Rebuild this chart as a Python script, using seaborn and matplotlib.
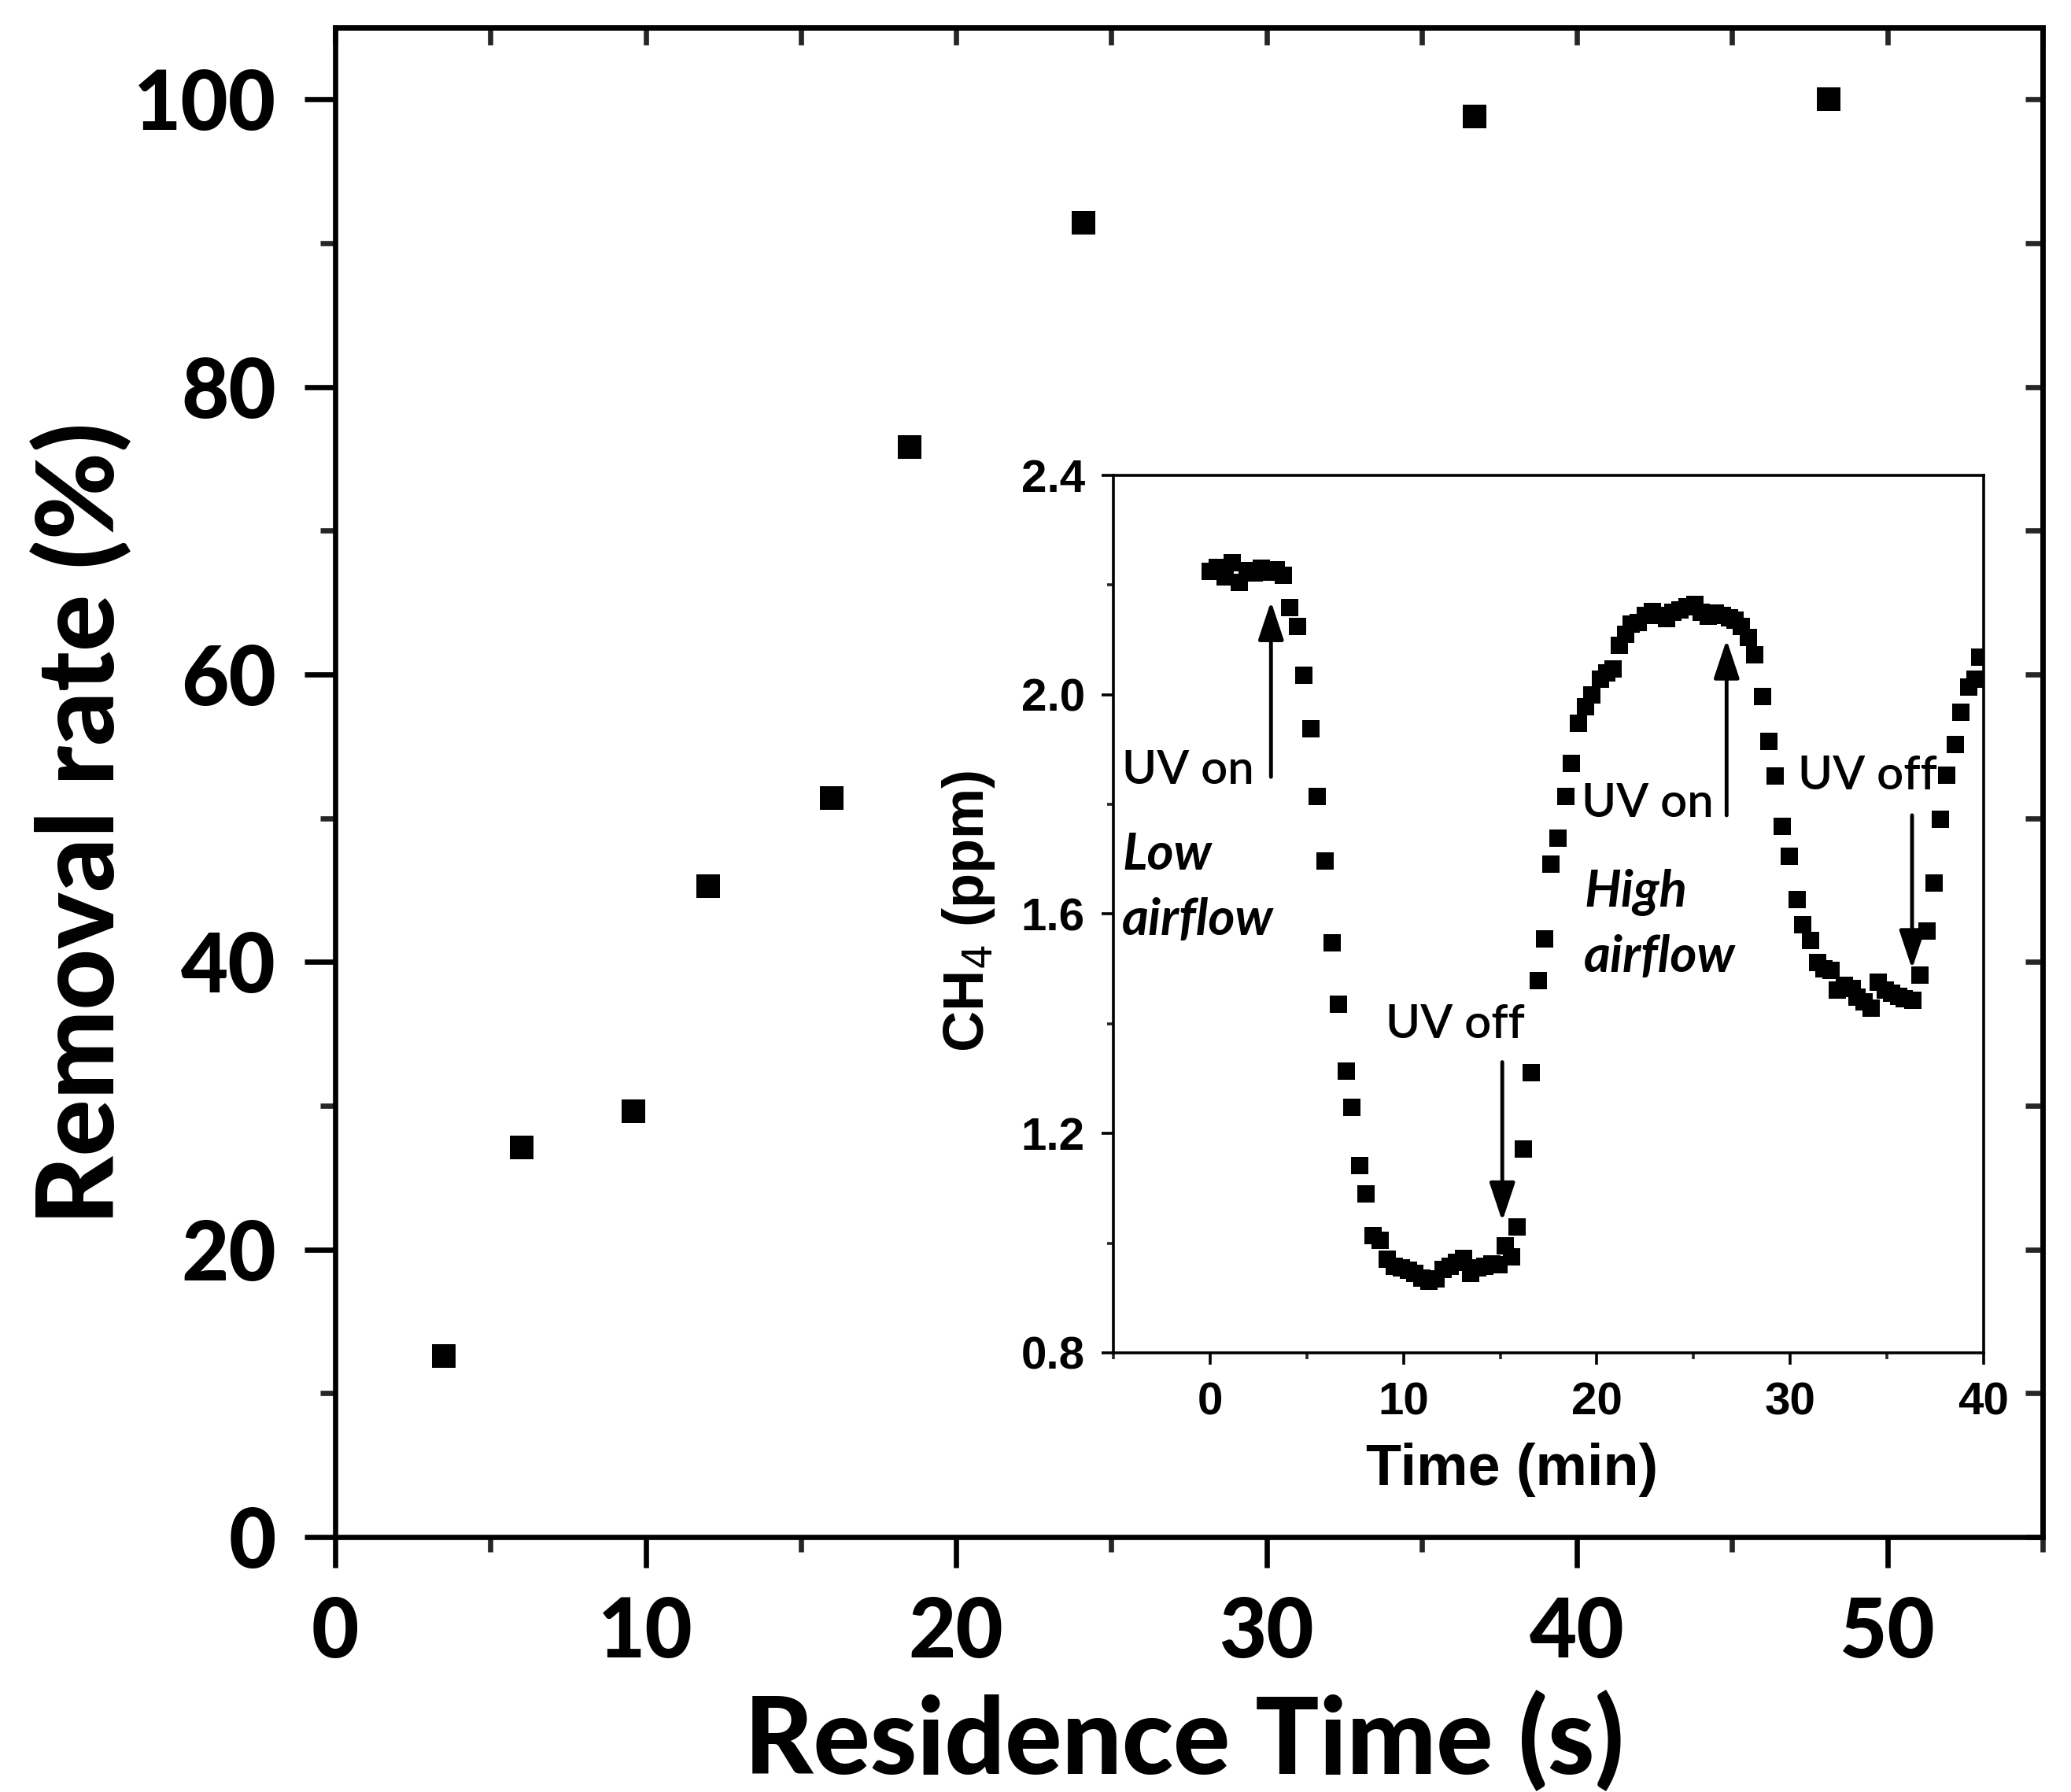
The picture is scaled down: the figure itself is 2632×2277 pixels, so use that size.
import numpy as np
import pandas as pd
import matplotlib
matplotlib.use("Agg")
import matplotlib.pyplot as plt
import seaborn as sns
from matplotlib.ticker import MultipleLocator

# main panel: removal rate vs residence time
residence_time = [3.5, 6.0, 9.6, 12.0, 16.0, 18.5, 24.1, 36.7, 48.1]
removal_rate = [12.6, 27.1, 29.6, 45.3, 51.4, 75.8, 91.4, 98.8, 100.0]

# inset: CH4 concentration vs time
time_min = [
    0.00, 0.38, 0.76, 1.14, 1.52, 1.90, 2.28, 2.66, 3.04, 3.42, 3.80,
    4.13, 4.53, 4.86, 5.22, 5.55, 5.96, 6.30, 6.65, 7.04, 7.34, 7.73, 8.07,
    8.44, 8.80, 9.16, 9.52, 9.88, 10.24, 10.60, 10.96, 11.32, 11.68, 12.04,
    12.40, 12.76, 13.12, 13.48, 13.84, 14.20, 14.56, 14.92, 15.28, 15.58, 15.87,
    16.21, 16.61, 16.98, 17.29, 17.63, 18.00, 18.38, 18.68, 19.03, 19.42, 19.76,
    20.17, 20.50, 20.85, 21.18, 21.50, 21.79, 22.15, 22.50, 22.88, 23.25, 23.60,
    23.95, 24.30, 24.65, 25.05, 25.40, 25.75, 26.14, 26.50, 26.85, 27.15, 27.49,
    27.83, 28.17, 28.55, 28.89, 29.23, 29.59, 29.97, 30.34, 30.64, 31.06, 31.42,
    31.76, 32.10, 32.45, 32.80, 33.19, 33.46, 33.83, 34.20, 34.57, 34.90, 35.25,
    35.60, 35.90, 36.35, 36.71, 37.09, 37.43, 37.77, 38.11, 38.52, 38.82, 39.23,
    39.57, 39.80,
]
ch4_ppm = [
    2.225, 2.232, 2.215, 2.240, 2.205, 2.226, 2.222, 2.230, 2.224, 2.228, 2.218,
    2.159, 2.124, 2.036, 1.938, 1.815, 1.696, 1.548, 1.436, 1.313, 1.247, 1.141, 1.090,
    1.013, 1.005, 0.970, 0.958, 0.955, 0.950, 0.945, 0.936, 0.930, 0.935, 0.952,
    0.958, 0.965, 0.972, 0.945, 0.955, 0.958, 0.962, 0.960, 0.995, 0.975, 1.030,
    1.172, 1.311, 1.478, 1.555, 1.691, 1.739, 1.814, 1.875, 1.948, 1.978, 2.000,
    2.028, 2.040, 2.047, 2.090, 2.110, 2.128, 2.132, 2.145, 2.152, 2.145, 2.138,
    2.150, 2.155, 2.160, 2.164, 2.150, 2.143, 2.148, 2.145, 2.140, 2.136, 2.124,
    2.104, 2.073, 1.997, 1.915, 1.851, 1.760, 1.706, 1.626, 1.581, 1.552, 1.511,
    1.500, 1.497, 1.461, 1.470, 1.464, 1.449, 1.440, 1.428, 1.476, 1.462, 1.455,
    1.450, 1.445, 1.442, 1.488, 1.569, 1.657, 1.773, 1.853, 1.909, 1.968, 2.014,
    2.028, 2.069,
]

main_df = pd.DataFrame({"time": residence_time, "rate": removal_rate})
inset_df = pd.DataFrame({"time": time_min, "ch4": ch4_ppm})

sns.set_theme(style="ticks")
plt.rcParams["font.family"] = ["Lato", "DejaVu Sans"]
plt.rcParams["text.color"] = "black"
plt.rcParams["axes.labelcolor"] = "black"

fig = plt.figure(figsize=(26.32, 22.77), dpi=100)
ax = fig.add_axes([0.1619, 0.1423, 0.8244, 0.8423])

sns.scatterplot(data=main_df, x="time", y="rate", marker="s", s=467,
                color="black", linewidth=0, ax=ax, clip_on=False)

ax.set_xlim(0, 55)
ax.set_ylim(0, 105)
ax.xaxis.set_major_locator(MultipleLocator(10))
ax.xaxis.set_minor_locator(MultipleLocator(5))
ax.yaxis.set_major_locator(MultipleLocator(20))
ax.yaxis.set_minor_locator(MultipleLocator(10))
for s in ax.spines.values():
    s.set_linewidth(4.8)
    s.set_color("black")
ax.tick_params(which="major", direction="out", length=28, width=4.8, pad=26,
               labelsize=75, colors="black")
ax.tick_params(which="minor", direction="out", length=14, width=4.8)
for lab in ax.get_xticklabels() + ax.get_yticklabels():
    lab.set_fontweight(900)

ax.set_xlabel("Residence Time (s)", fontsize=97, fontweight=900, color="black")
ax.set_ylabel("Removal rate (%)", fontsize=97, fontweight=900, color="black")
ax.xaxis.set_label_coords(0.497, -0.102)
ax.yaxis.set_label_coords(-0.119, 0.473)

# inward ticks on top and right
top = ax.secondary_xaxis("top")
top.xaxis.set_major_locator(MultipleLocator(10))
top.xaxis.set_minor_locator(MultipleLocator(5))
top.tick_params(which="both", direction="in", length=16, width=4.8, labeltop=False)
right = ax.secondary_yaxis("right")
right.yaxis.set_major_locator(MultipleLocator(20))
right.yaxis.set_minor_locator(MultipleLocator(10))
right.tick_params(which="both", direction="in", length=16, width=4.8, labelright=False)
for sec in (top, right):
    for s in sec.spines.values():
        s.set_linewidth(4.8)

# inset
ins = fig.add_axes([0.5376, 0.2451, 0.4202, 0.4897])
sns.scatterplot(data=inset_df, x="time", y="ch4", marker="s", s=260,
                color="black", linewidth=0, ax=ins)
ins.set_xlim(-5, 40)
ins.set_ylim(0.8, 2.4)
ins.xaxis.set_major_locator(MultipleLocator(10))
ins.xaxis.set_minor_locator(MultipleLocator(5))
ins.yaxis.set_major_locator(MultipleLocator(0.4))
ins.yaxis.set_minor_locator(MultipleLocator(0.2))
for s in ins.spines.values():
    s.set_linewidth(2.6)
    s.set_color("black")
arial = ["Liberation Sans", "DejaVu Sans"]
ins.tick_params(which="major", direction="out", length=11, width=2.6, pad=15,
                labelsize=42, colors="black")
ins.tick_params(which="minor", direction="out", length=6, width=2.6)
for lab in ins.get_xticklabels() + ins.get_yticklabels():
    lab.set_fontweight("bold")
    lab.set_family(arial)
ins.set_xlabel("Time (min)", fontsize=53, fontweight="bold", family=arial)
ins.set_ylabel("CH$_4$ (ppm)", fontsize=52, fontweight="bold", family=arial)
ins.xaxis.set_label_coords(0.458, -0.102)
ins.yaxis.set_label_coords(-0.134, 0.503)

arrow = dict(arrowstyle="-|>,head_length=0.75,head_width=0.25", lw=3.5,
             color="black", mutation_scale=40, shrinkA=0, shrinkB=0)
ins.annotate("", xy=(3.15, 2.17), xytext=(3.15, 1.85), arrowprops=arrow)
ins.annotate("", xy=(15.11, 1.04), xytext=(15.11, 1.33), arrowprops=arrow)
ins.annotate("", xy=(26.71, 2.10), xytext=(26.71, 1.78), arrowprops=arrow)
ins.annotate("", xy=(36.30, 1.50), xytext=(36.30, 1.78), arrowprops=arrow)

ins.text(-4.54, 1.838, "UV on", fontsize=43, fontweight=600)
ins.text(9.09, 1.374, "UV off", fontsize=43, fontweight=600)
ins.text(19.22, 1.777, "UV on", fontsize=43, fontweight=600)
ins.text(30.41, 1.827, "UV off", fontsize=43, fontweight=600)
ins.text(-4.54, 1.681, "Low", fontsize=47, fontweight="bold", fontstyle="italic")
ins.text(-4.54, 1.562, "airflow", fontsize=47, fontweight="bold", fontstyle="italic")
ins.text(19.34, 1.614, "High", fontsize=47, fontweight="bold", fontstyle="italic")
ins.text(19.34, 1.495, "airflow", fontsize=47, fontweight="bold", fontstyle="italic")

fig.savefig("out.png", dpi=100, facecolor="white")
